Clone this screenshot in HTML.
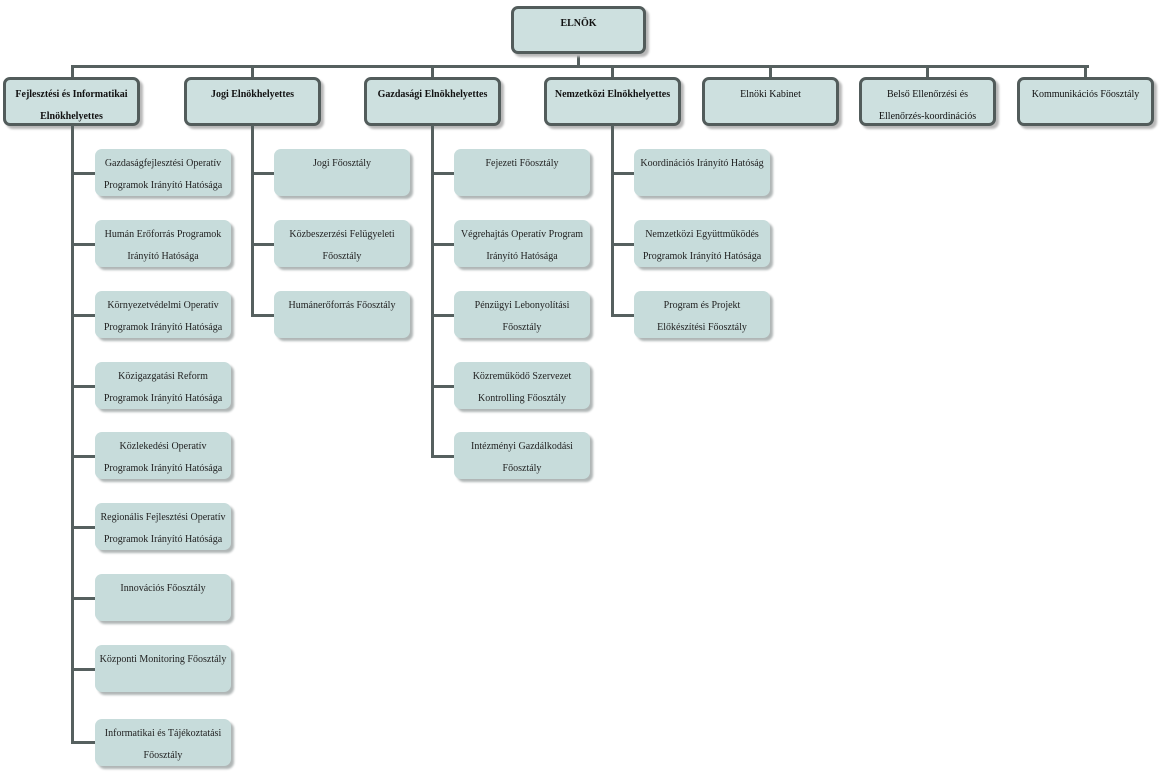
<!DOCTYPE html>
<html><head><meta charset="utf-8"><style>
body{margin:0;width:1161px;height:776px;background:#fff;position:relative;overflow:hidden;font-family:"Liberation Serif",serif;}
.t{position:absolute;box-sizing:border-box;border:3px solid #525c5b;border-radius:7px;background:#cde0df;box-shadow:3px 3px 2px #b8b8b8;font-weight:bold;font-size:10px;line-height:22px;text-align:center;padding-top:4px;color:#111;white-space:nowrap;}
.c{position:absolute;box-sizing:border-box;width:136px;height:47px;border-radius:7px;background:#c7dcdb;box-shadow:3px 3px 2px #b0b6b6;font-size:10px;line-height:22px;text-align:center;padding-top:4px;color:#222;white-space:nowrap;}
.l{position:absolute;background:#56605f;}
</style></head><body>
<div class="l" style="left:577px;top:52px;width:3px;height:15px"></div>
<div class="l" style="left:71px;top:65px;width:1018px;height:3px"></div>
<div class="l" style="left:71px;top:65px;width:3px;height:13px"></div>
<div class="l" style="left:251px;top:65px;width:3px;height:13px"></div>
<div class="l" style="left:431px;top:65px;width:3px;height:13px"></div>
<div class="l" style="left:611px;top:65px;width:3px;height:13px"></div>
<div class="l" style="left:769px;top:65px;width:3px;height:13px"></div>
<div class="l" style="left:926px;top:65px;width:3px;height:13px"></div>
<div class="l" style="left:1084px;top:65px;width:3px;height:13px"></div>

<div class="t" style="left:511px;top:6px;width:135px;height:48px">ELNÖK</div>
<div class="t" style="left:3px;top:77px;width:137px;height:49px">Fejlesztési és Informatikai<br>Elnökhelyettes</div>
<div class="t" style="left:184px;top:77px;width:137px;height:49px">Jogi Elnökhelyettes</div>
<div class="t" style="left:364px;top:77px;width:137px;height:49px">Gazdasági Elnökhelyettes</div>
<div class="t" style="left:544px;top:77px;width:137px;height:49px">Nemzetközi Elnökhelyettes</div>
<div class="t" style="left:702px;top:77px;width:137px;height:49px;font-weight:normal">Elnöki Kabinet</div>
<div class="t" style="left:859px;top:77px;width:137px;height:49px;font-weight:normal">Belső Ellenőrzési és<br>Ellenőrzés-koordinációs</div>
<div class="t" style="left:1017px;top:77px;width:137px;height:49px;font-weight:normal">Kommunikációs Főosztály</div>

<div class="l" style="left:71px;top:125px;width:3px;height:619px"></div>
<div class="l" style="left:251px;top:125px;width:3px;height:191px"></div>
<div class="l" style="left:431px;top:125px;width:3px;height:333px"></div>
<div class="l" style="left:611px;top:125px;width:3px;height:191px"></div>

<div class="l" style="left:71px;top:172px;width:24px;height:3px"></div>
<div class="l" style="left:71px;top:243px;width:24px;height:3px"></div>
<div class="l" style="left:71px;top:314px;width:24px;height:3px"></div>
<div class="l" style="left:71px;top:385px;width:24px;height:3px"></div>
<div class="l" style="left:71px;top:455px;width:24px;height:3px"></div>
<div class="l" style="left:71px;top:526px;width:24px;height:3px"></div>
<div class="l" style="left:71px;top:597px;width:24px;height:3px"></div>
<div class="l" style="left:71px;top:668px;width:24px;height:3px"></div>
<div class="l" style="left:71px;top:741px;width:24px;height:3px"></div>
<div class="c" style="left:95px;top:149px">Gazdaságfejlesztési Operatív<br>Programok Irányító Hatósága</div>
<div class="c" style="left:95px;top:220px">Humán Erőforrás Programok<br>Irányító Hatósága</div>
<div class="c" style="left:95px;top:291px">Környezetvédelmi Operatív<br>Programok Irányító Hatósága</div>
<div class="c" style="left:95px;top:362px">Közigazgatási Reform<br>Programok Irányító Hatósága</div>
<div class="c" style="left:95px;top:432px">Közlekedési Operatív<br>Programok Irányító Hatósága</div>
<div class="c" style="left:95px;top:503px">Regionális Fejlesztési Operatív<br>Programok Irányító Hatósága</div>
<div class="c" style="left:95px;top:574px">Innovációs Főosztály</div>
<div class="c" style="left:95px;top:645px">Központi Monitoring Főosztály</div>
<div class="c" style="left:95px;top:719px">Informatikai és Tájékoztatási<br>Főosztály</div>

<div class="l" style="left:251px;top:172px;width:24px;height:3px"></div>
<div class="l" style="left:251px;top:243px;width:24px;height:3px"></div>
<div class="l" style="left:251px;top:314px;width:24px;height:3px"></div>
<div class="c" style="left:274px;top:149px">Jogi Főosztály</div>
<div class="c" style="left:274px;top:220px">Közbeszerzési Felügyeleti<br>Főosztály</div>
<div class="c" style="left:274px;top:291px">Humánerőforrás Főosztály</div>

<div class="l" style="left:431px;top:172px;width:24px;height:3px"></div>
<div class="l" style="left:431px;top:243px;width:24px;height:3px"></div>
<div class="l" style="left:431px;top:314px;width:24px;height:3px"></div>
<div class="l" style="left:431px;top:385px;width:24px;height:3px"></div>
<div class="l" style="left:431px;top:455px;width:24px;height:3px"></div>
<div class="c" style="left:454px;top:149px">Fejezeti Főosztály</div>
<div class="c" style="left:454px;top:220px">Végrehajtás Operatív Program<br>Irányító Hatósága</div>
<div class="c" style="left:454px;top:291px">Pénzügyi Lebonyolítási<br>Főosztály</div>
<div class="c" style="left:454px;top:362px">Közreműködő Szervezet<br>Kontrolling Főosztály</div>
<div class="c" style="left:454px;top:432px">Intézményi Gazdálkodási<br>Főosztály</div>

<div class="l" style="left:611px;top:172px;width:24px;height:3px"></div>
<div class="l" style="left:611px;top:243px;width:24px;height:3px"></div>
<div class="l" style="left:611px;top:314px;width:24px;height:3px"></div>
<div class="c" style="left:634px;top:149px">Koordinációs Irányító Hatóság</div>
<div class="c" style="left:634px;top:220px">Nemzetközi Együttműködés<br>Programok Irányító Hatósága</div>
<div class="c" style="left:634px;top:291px">Program és Projekt<br>Előkészítési Főosztály</div>
</body></html>
